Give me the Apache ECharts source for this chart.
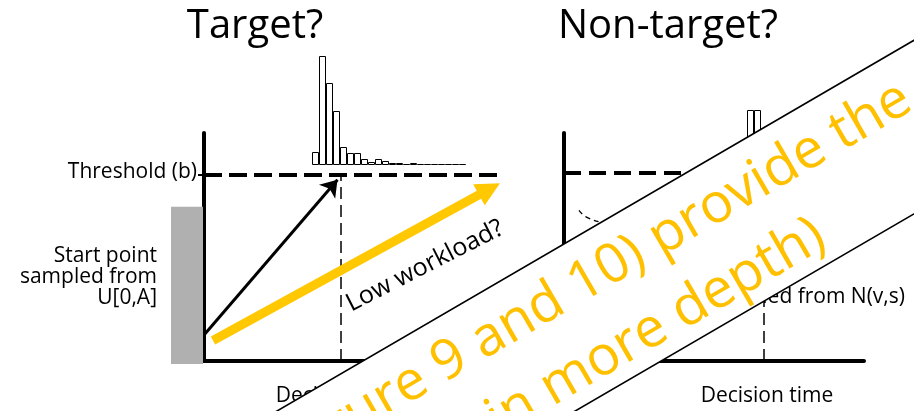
<!DOCTYPE html>
<html>
<head>
<meta charset="utf-8">
<script src="https://cdn.jsdelivr.net/npm/echarts@6/dist/echarts.min.js"></script>
<style>
  html, body { margin: 0; background: #fff; }
  #chart { width: 914px; height: 411px; }
</style>
</head>
<body>
<div id="chart"></div>
<script>
// values (time in s, evidence with threshold b ~ 1)
const panelTitles = ['Target?', 'Non-target?'];
const targetHist = [13, 109, 82, 54, 18, 12, 12, 6, 3, 6, 4, 2, 2, 1, 2, 1, 1, 1, 1, 1, 1, 1];
const nonTargetHist = [55, 55];
const startRange = [0, 0.83];           // U[0,A]
const thresholds = [1.0, 1.01];         // left, right panel
const targetDrift = [[0, 0.14], [1.335, 0.975]];
const lowDrift = [[0.09, 0.11], [2.855, 0.925]];
const leftDecision = [[1.37, 0], [1.37, 1.0]];
const rightDecision = [[2.0, 0], [2.0, 1.01]];
const driftArc = [[0.15, 0.81], [0.22, 0.775], [0.36, 0.747]];

const FONT = '"Open Sans", "Noto Sans", sans-serif';
let chart = echarts.init(document.getElementById('chart'));

function panelAxis(idx) {
  return {
    type: 'value', gridIndex: idx, min: 0, max: 3,
    axisLine: { show: true, onZero: false, lineStyle: { color: '#000', width: 4 } },
    axisTick: { show: false }, axisLabel: { show: false }, splitLine: { show: false }
  };
}
function panelYAxis(idx) {
  return {
    type: 'value', gridIndex: idx, min: 0, max: 1.226,
    axisLine: { show: true, onZero: false, lineStyle: { color: '#000', width: 4 } },
    axisTick: { show: false }, axisLabel: { show: false }, splitLine: { show: false }
  };
}
function histX(idx, n) {
  return { type: 'category', gridIndex: idx, data: n.map((v, i) => i), show: false };
}
function histY(idx) {
  return { type: 'value', gridIndex: idx, min: 0, max: 115, show: false };
}
function mline(xIdx, pts, style, endSymbol, size) {
  return {
    type: 'line', xAxisIndex: xIdx, yAxisIndex: xIdx, data: [], clip: false,
    markLine: {
      silent: true, animation: false,
      symbol: ['none', endSymbol || 'none'],
      symbolSize: size || 10,
      label: { show: false },
      lineStyle: style,
      itemStyle: { color: style.color },
      data: [[{ coord: pts[0] }, { coord: pts[1] }]]
    }
  };
}
function txt(x, y, text, size, align, extra) {
  return Object.assign({
    type: 'text', x: x, y: y, z: 10,
    style: { text: text, font: size + 'px ' + FONT, fill: '#000', align: align, verticalAlign: 'middle', textAlign: align, textVerticalAlign: 'middle' }
  }, extra || {});
}

let option = {
  animation: false,
  backgroundColor: '#fff',
  grid: [
    { left: 204, top: 133, width: 300, height: 228 },
    { left: 564, top: 133, width: 300, height: 228 },
    { left: 312, top: 50, width: 154, height: 115 },
    { left: 747, top: 50, width: 14, height: 115 }
  ],
  xAxis: [panelAxis(0), panelAxis(1), histX(2, targetHist), histX(3, nonTargetHist)],
  yAxis: [panelYAxis(0), panelYAxis(1), histY(2), histY(3)],
  series: [
    // start point distribution + threshold tick left of the axis
    {
      type: 'custom', xAxisIndex: 0, yAxisIndex: 0, clip: false,
      data: [[startRange[0], startRange[1], thresholds[0]]],
      renderItem: function (params, api) {
        let p0 = api.coord([0, api.value(0)]);
        let p1 = api.coord([0, api.value(1)]);
        let pt = api.coord([0, api.value(2)]);
        return {
          type: 'group',
          children: [
            {
              type: 'rect',
              shape: { x: p0[0] - 33, y: p1[1], width: 32, height: p0[1] - p1[1] + 3 },
              style: { fill: '#b0b0b0' }
            },
            {
              type: 'line',
              shape: { x1: p0[0] - 6, y1: pt[1], x2: p0[0], y2: pt[1] },
              style: { stroke: '#000', lineWidth: 2 }
            }
          ]
        };
      }
    },
    mline(0, [[0, thresholds[0]], [3.0, thresholds[0]]], { color: '#000', width: 4, type: [18, 7] }),
    mline(0, leftDecision, { color: '#000', width: 1.5, type: [12, 6] }),
    mline(0, targetDrift, { color: '#000', width: 3, type: 'solid' }, 'arrow', 16),
    mline(0, lowDrift, { color: '#FFC800', width: 9, type: 'solid' }, 'triangle', 24),
    mline(1, [[0, thresholds[1]], [3.0, thresholds[1]]], { color: '#000', width: 4, type: [17, 8] }),
    mline(1, rightDecision, { color: '#000', width: 1.5, type: [12, 6] }),
    {
      type: 'line', xAxisIndex: 1, yAxisIndex: 1, data: driftArc, smooth: true,
      showSymbol: false, lineStyle: { color: '#000', width: 1.3, type: [5, 4] }
    },
    {
      type: 'bar', xAxisIndex: 2, yAxisIndex: 2, data: targetHist,
      barCategoryGap: '0%', itemStyle: { color: '#fff', borderColor: '#000', borderWidth: 1 }
    },
    {
      type: 'bar', xAxisIndex: 3, yAxisIndex: 3, data: nonTargetHist,
      barCategoryGap: '0%', itemStyle: { color: '#fff', borderColor: '#000', borderWidth: 1 }
    }
  ],
  graphic: [
    txt(255, 27, panelTitles[0], 40, 'center'),
    txt(668, 27, panelTitles[1], 40, 'center'),
    txt(197, 172, 'Threshold (b)', 21, 'right'),
    txt(157, 277, 'Start point\nsampled from\nU[0,A]', 21, 'right'),
    txt(425, 266, 'Low workload?', 25, 'center', { rotation: 27 * Math.PI / 180 }),
    txt(342, 396, 'Decision time', 21, 'center'),
    txt(767, 396, 'Decision time', 21, 'center'),
    txt(905, 297, 'Drift rate sampled from N(v,s)', 21, 'right'),
    {
      type: 'group', x: 600, y: 223, rotation: 30.2 * Math.PI / 180, z: 100,
      children: [
        { type: 'rect', z: 100, shape: { x: -800, y: 0, width: 1600, height: 150 }, style: { fill: '#fff', stroke: '#000', lineWidth: 1.6 } },
        { type: 'text', x: -405, y: 44, z: 101, style: { text: '(Figure 9 and 10) provide the answer', font: '55px ' + FONT, fill: '#FFC000', align: 'left', verticalAlign: 'middle', textAlign: 'left', textVerticalAlign: 'middle' } },
        { type: 'text', x: -195, y: 119, z: 101, style: { text: 'in more depth)', font: '55px ' + FONT, fill: '#FFC000', align: 'left', verticalAlign: 'middle', textAlign: 'left', textVerticalAlign: 'middle' } }
      ]
    }
  ]
};
chart.setOption(option);
</script>
</body>
</html>
